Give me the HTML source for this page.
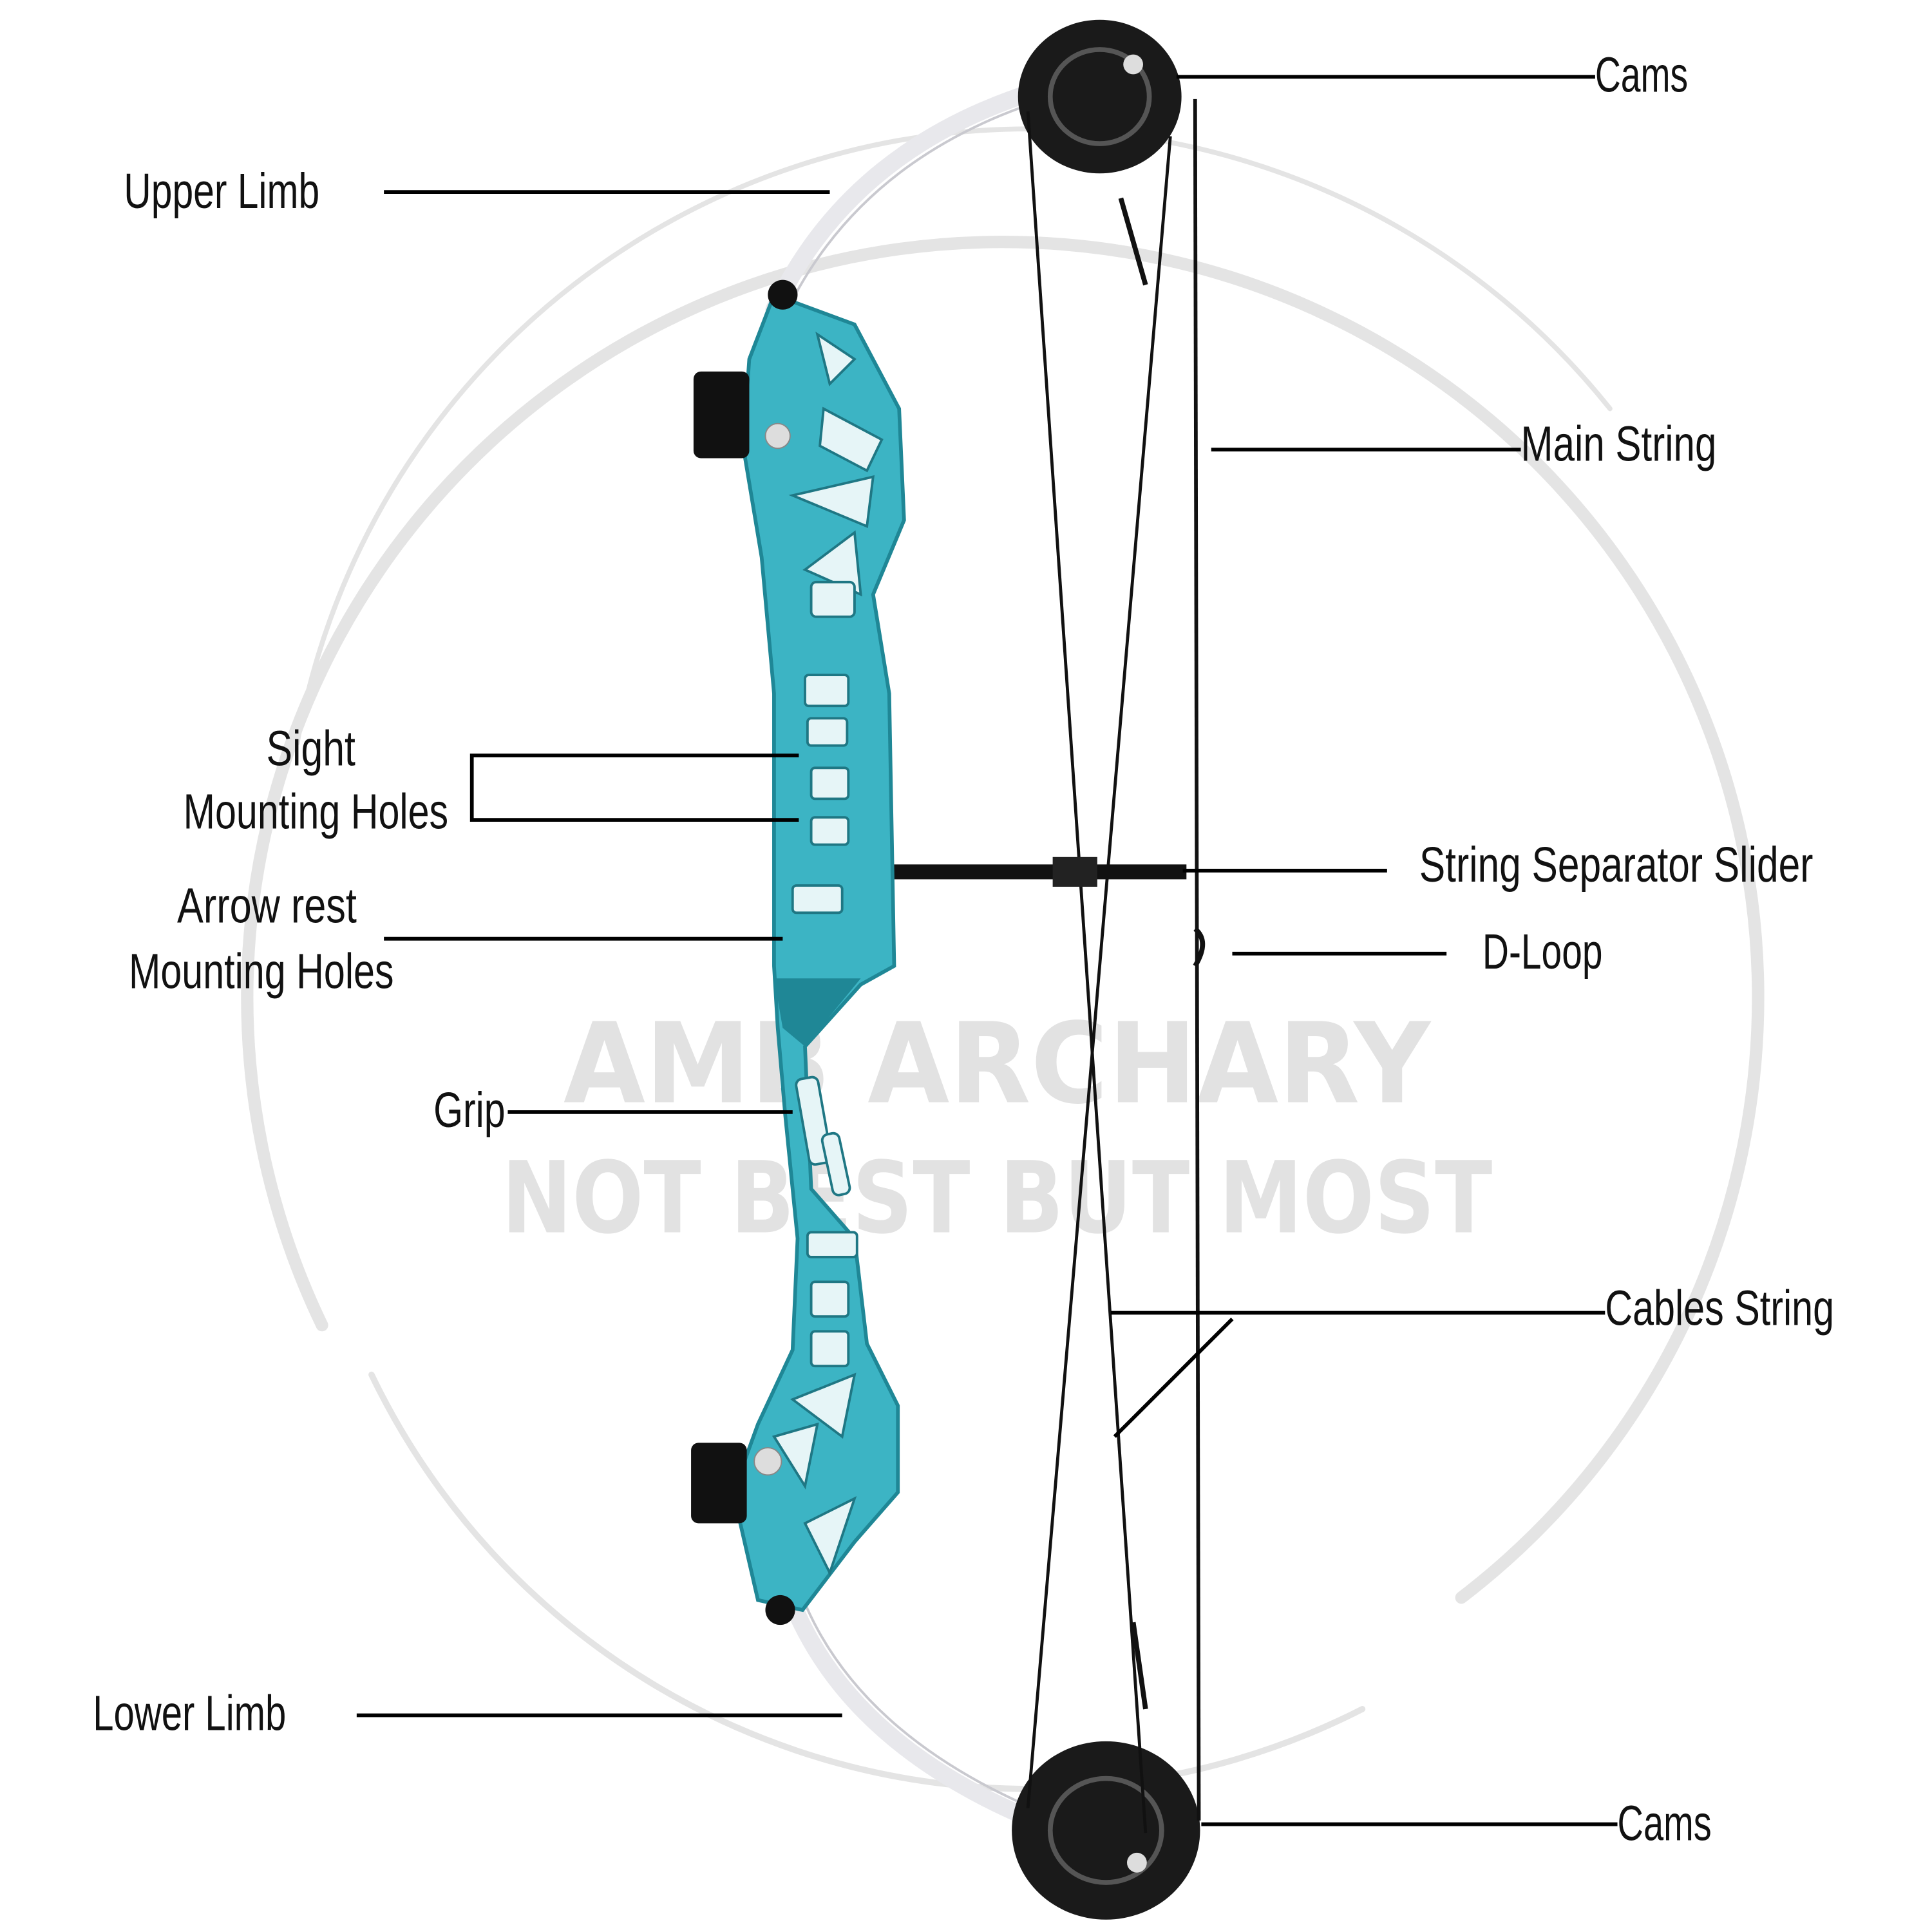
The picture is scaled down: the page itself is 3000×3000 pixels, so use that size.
<!DOCTYPE html>
<html><head><meta charset="utf-8"><style>
html,body{margin:0;padding:0;background:#fff;width:3000px;height:3000px;overflow:hidden}
svg{display:block}
text{font-family:"Liberation Sans Narrow","Liberation Sans",sans-serif;fill:#111}
</style></head><body>
<svg width="3000" height="3000" viewBox="0 0 1560 1560" xmlns="http://www.w3.org/2000/svg">
<rect width="1560" height="1560" fill="#fff"/>
<!-- watermark -->
<g fill="none" stroke="#e4e4e4" stroke-width="10" stroke-linecap="round">
<path d="M260 1070 A610 610 0 1 1 1180 1290"/>
<path d="M300 1110 A590 590 0 0 0 1100 1380" stroke-width="5"/>
<path d="M240 600 A600 600 0 0 1 1300 330" stroke-width="4"/>
</g>
<text x="805" y="890" text-anchor="middle" font-size="90" font-weight="bold" style="fill:#e2e2e2;font-family:'DejaVu Sans','Liberation Sans',sans-serif" textLength="700" lengthAdjust="spacingAndGlyphs">AMB ARCHARY</text>
<text x="805" y="995" text-anchor="middle" font-size="80" font-weight="bold" style="fill:#e2e2e2;font-family:'DejaVu Sans','Liberation Sans',sans-serif" textLength="800" lengthAdjust="spacingAndGlyphs">NOT BEST BUT MOST</text>
<!-- limbs -->
<g fill="none" stroke="#e8e8ec" stroke-width="14" stroke-linecap="round">
<path d="M625 250 Q700 90 915 55"/>
<path d="M640 1295 Q700 1440 925 1500"/>
</g>
<g fill="none" stroke="#c9c9cf" stroke-width="2">
<path d="M632 258 Q705 100 915 63"/>
<path d="M648 1290 Q705 1430 925 1492"/>
</g>
<!-- cams -->
<ellipse cx="888" cy="78" rx="66" ry="62" fill="#1a1a1a"/>
<ellipse cx="888" cy="78" rx="40" ry="38" fill="none" stroke="#555" stroke-width="4"/>
<circle cx="915" cy="52" r="8" fill="#ddd"/>
<ellipse cx="893" cy="1478" rx="76" ry="72" fill="#1a1a1a"/>
<ellipse cx="893" cy="1478" rx="45" ry="42" fill="none" stroke="#555" stroke-width="4"/>
<circle cx="918" cy="1504" r="8" fill="#ddd"/>
<!-- strings -->
<g stroke="#111" fill="none">
<line x1="965" y1="80" x2="968" y2="1470" stroke-width="3"/>
<line x1="830" y1="90" x2="925" y2="1480" stroke-width="2.5"/>
<line x1="945" y1="110" x2="830" y2="1460" stroke-width="2.5"/>
<line x1="905" y1="160" x2="925" y2="230" stroke-width="4"/>
<line x1="915" y1="1310" x2="925" y2="1380" stroke-width="4"/>
</g>
<!-- rod -->
<rect x="703" y="698" width="255" height="12" fill="#111"/>
<rect x="850" y="692" width="36" height="24" fill="#222"/>
<path d="M965 750 q12 10 0 30" stroke="#111" stroke-width="4" fill="none"/>
<!-- riser -->
<path d="M625 238 L690 262 L726 330 L730 420 L705 480 L718 560 L722 780 L695 795 L650 845 L655 960 L690 1000 L700 1085 L725 1135 L725 1205 L690 1245 L648 1300 L612 1292 L592 1205 L612 1150 L640 1090 L644 1000 L634 900 L628 830 L625 780 L625 560 L615 450 L600 360 L605 290 Z" fill="#3cb4c4" stroke="#1f8796" stroke-width="3"/>
<path d="M625 790 L695 790 L650 845 L632 830 Z" fill="#1f8796"/>
<g fill="#e6f5f7" stroke="#1f7784" stroke-width="2">
<path d="M660 270 L690 290 L670 310 Z"/>
<path d="M665 330 L712 355 L700 380 L662 360 Z"/>
<path d="M640 400 L705 385 L700 425 Z"/>
<path d="M650 460 L690 430 L695 480 Z"/>
<rect x="655" y="470" width="35" height="28" rx="4"/>
<rect x="650" y="545" width="35" height="25" rx="3"/>
<rect x="652" y="580" width="32" height="22" rx="3"/>
<rect x="655" y="620" width="30" height="25" rx="3"/>
<rect x="655" y="660" width="30" height="22" rx="3"/>
<rect x="640" y="715" width="40" height="22" rx="3"/>
<rect x="648" y="870" width="18" height="70" rx="5" transform="rotate(-10 657 905)"/>
<rect x="668" y="915" width="14" height="50" rx="5" transform="rotate(-12 675 940)"/>
<rect x="652" y="995" width="40" height="20" rx="3"/>
<rect x="655" y="1035" width="30" height="28" rx="3"/>
<rect x="655" y="1075" width="30" height="28" rx="3"/>
<path d="M640 1130 L690 1110 L680 1160 Z"/>
<path d="M625 1160 L660 1150 L650 1200 Z"/>
<path d="M650 1230 L690 1210 L670 1270 Z"/>
</g>
<circle cx="628" cy="352" r="10" fill="#ddd" stroke="#888"/>
<circle cx="620" cy="1180" r="11" fill="#ddd" stroke="#888"/>
<!-- black blocks -->
<rect x="560" y="300" width="45" height="70" rx="6" fill="#111"/>
<rect x="558" y="1165" width="45" height="65" rx="6" fill="#111"/>
<circle cx="632" cy="238" r="12" fill="#111"/>
<circle cx="630" cy="1300" r="12" fill="#111"/>
<!-- leader lines -->
<g stroke="#000" stroke-width="3" fill="none">
<line x1="950" y1="62" x2="1288" y2="62"/>
<line x1="310" y1="155" x2="670" y2="155"/>
<line x1="978" y1="363" x2="1228" y2="363"/>
<polyline points="645,610 381,610 381,662 645,662"/>
<line x1="310" y1="758" x2="632" y2="758"/>
<line x1="955" y1="703" x2="1120" y2="703"/>
<line x1="995" y1="770" x2="1168" y2="770"/>
<line x1="410" y1="898" x2="640" y2="898"/>
<line x1="897" y1="1060" x2="1296" y2="1060"/>
<line x1="995" y1="1065" x2="900" y2="1160"/>
<line x1="288" y1="1385" x2="680" y2="1385"/>
<line x1="970" y1="1473" x2="1306" y2="1473"/>
</g>
<!-- labels -->
<g font-size="40">
<text x="1288" y="74" textLength="75" lengthAdjust="spacingAndGlyphs">Cams</text>
<text x="100" y="168" textLength="158" lengthAdjust="spacingAndGlyphs">Upper Limb</text>
<text x="1228" y="372" textLength="158" lengthAdjust="spacingAndGlyphs">Main String</text>
<text x="215" y="618" textLength="72" lengthAdjust="spacingAndGlyphs">Sight</text>
<text x="148" y="669" textLength="214" lengthAdjust="spacingAndGlyphs">Mounting Holes</text>
<text x="143" y="745" textLength="145" lengthAdjust="spacingAndGlyphs">Arrow rest</text>
<text x="104" y="798" textLength="214" lengthAdjust="spacingAndGlyphs">Mounting Holes</text>
<text x="1146" y="712" textLength="318" lengthAdjust="spacingAndGlyphs">String Separator Slider</text>
<text x="1197" y="782" textLength="97" lengthAdjust="spacingAndGlyphs">D-Loop</text>
<text x="350" y="910" textLength="58" lengthAdjust="spacingAndGlyphs">Grip</text>
<text x="1296" y="1070" textLength="185" lengthAdjust="spacingAndGlyphs">Cables String</text>
<text x="75" y="1397" textLength="156" lengthAdjust="spacingAndGlyphs">Lower Limb</text>
<text x="1306" y="1486" textLength="76" lengthAdjust="spacingAndGlyphs">Cams</text>
</g>
</svg>
</body></html>
